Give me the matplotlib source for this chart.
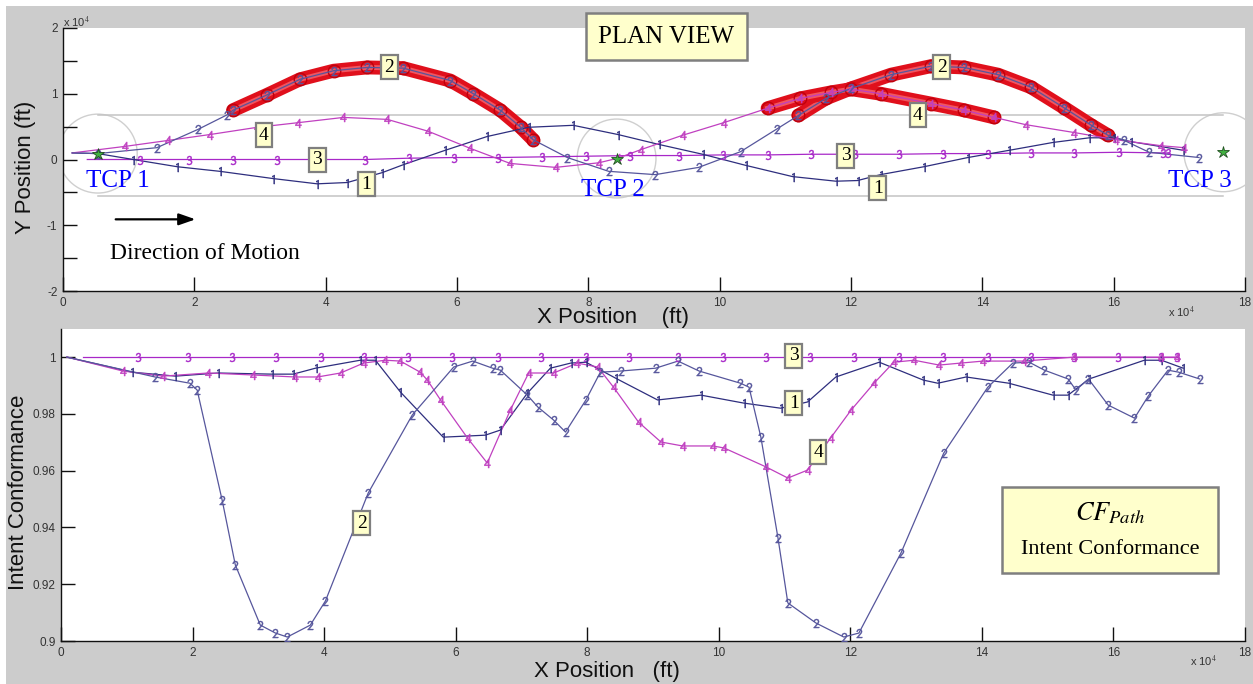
import matplotlib
matplotlib.use('Agg')
import matplotlib.pyplot as plt
from matplotlib.patches import Circle, Rectangle

plt.rcParams['mathtext.fontset'] = 'stix'
plt.rcParams['axes.unicode_minus'] = False
SANS = ['Liberation Sans', 'DejaVu Sans']
SERIF = ['Liberation Serif', 'DejaVu Serif']

# ---------------- Plan view data (x, y in units of 1e4 ft) ----------------
p1_x = [0.14, 0.53, 1.07, 1.74, 2.39, 3.20, 3.87, 4.33, 4.86, 5.18, 5.82, 6.46, 7.09, 7.77, 8.45,
        9.07, 9.74, 10.40, 11.11, 11.77, 12.10, 12.45, 13.11, 13.78, 14.41, 15.08, 15.63, 16.01, 16.27, 17.06]
p1_y = [0.10, 0.09, 0.00, -0.11, -0.18, -0.29, -0.37, -0.35, -0.20, -0.08, 0.14, 0.35, 0.49, 0.52, 0.38,
        0.23, 0.08, -0.09, -0.26, -0.33, -0.32, -0.23, -0.11, 0.03, 0.14, 0.26, 0.33, 0.33, 0.27, 0.14]

p2_x = [0.14, 0.53, 1.43, 2.06, 2.50, 2.59, 3.10, 3.61, 4.12, 4.63, 5.18, 5.90, 6.25, 6.66, 6.97, 7.16,
        7.68, 8.31, 9.02, 9.68, 10.32, 10.88, 11.20, 11.62, 12.00, 12.61, 13.22, 13.72, 14.24, 14.74,
        15.24, 15.66, 15.91, 16.16, 16.54, 17.30]
p2_y = [0.10, 0.09, 0.18, 0.46, 0.68, 0.75, 0.98, 1.22, 1.35, 1.40, 1.39, 1.20, 1.00, 0.75, 0.49, 0.30,
        0.03, -0.18, -0.23, -0.12, 0.12, 0.47, 0.67, 0.93, 1.08, 1.29, 1.42, 1.40, 1.29, 1.10,
        0.79, 0.52, 0.37, 0.29, 0.11, 0.03]

p3_x = [0.37, 1.17, 1.92, 2.59, 3.26, 3.93, 4.60, 5.27, 5.95, 6.62, 7.30, 7.96, 8.64, 9.38, 10.05,
        10.73, 11.39, 12.06, 12.73, 13.40, 14.09, 14.74, 15.40, 16.08, 16.75, 16.83]
p3_y = [0.00, 0.00, 0.00, 0.00, 0.00, 0.00, 0.00, 0.02, 0.03, 0.03, 0.04, 0.05, 0.06, 0.06, 0.07,
        0.07, 0.08, 0.08, 0.08, 0.09, 0.09, 0.10, 0.10, 0.11, 0.10, 0.10]

p4_x = [0.14, 0.95, 1.60, 2.24, 2.96, 3.58, 4.27, 4.94, 5.56, 6.20, 6.81, 7.50, 8.16, 8.45, 8.80,
        9.44, 10.06, 10.73, 11.23, 11.69, 12.00, 12.45, 13.22, 13.72, 14.18, 14.66, 15.40, 16.04, 16.72, 17.07]
p4_y = [0.10, 0.20, 0.29, 0.38, 0.49, 0.56, 0.64, 0.61, 0.43, 0.17, -0.06, -0.12, -0.05, 0.02, 0.15,
        0.37, 0.56, 0.78, 0.93, 1.02, 1.07, 1.00, 0.85, 0.75, 0.64, 0.53, 0.41, 0.30, 0.21, 0.18]

# x-ranges where conformance is poor (red rings)
red2 = [(2.55, 7.20), (11.15, 15.95)]
red4 = [(10.70, 14.20)]

tcp_x = [0.53, 8.43, 17.67]
tcp_y = [0.09, 0.015, 0.11]
tcp_names = ['TCP 1', 'TCP 2', 'TCP 3']
tcp_radius = 0.6
corridor_top = 0.67
corridor_bot = -0.55

# ---------------- Intent conformance data ----------------
c1_x = [0.09, 1.08, 1.74, 2.39, 3.21, 3.53, 3.87, 4.55, 4.78, 5.16, 5.81, 6.45, 6.68, 7.09, 7.44, 7.75,
        7.98, 8.43, 9.07, 9.73, 10.38, 10.94, 11.35, 11.78, 12.44, 13.11, 13.33, 13.76, 14.41, 15.08,
        15.31, 15.63, 16.47, 16.73, 17.06]
c1_y = [1.000, 0.9947, 0.9933, 0.9944, 0.9940, 0.9940, 0.9961, 0.9989, 0.9989, 0.9877, 0.9718, 0.9725,
        0.9743, 0.9873, 0.9961, 0.9979, 0.9982, 0.9926, 0.9849, 0.9866, 0.9838, 0.9820, 0.9842, 0.9930,
        0.9982, 0.9919, 0.9908, 0.9930, 0.9908, 0.9866, 0.9866, 0.9923, 0.9989, 0.9989, 0.9961]

c2_x = [0.09, 1.43, 1.96, 2.07, 2.45, 2.65, 3.03, 3.26, 3.44, 3.79, 4.02, 4.67, 5.34, 5.97, 6.26, 6.56,
        6.68, 7.09, 7.25, 7.49, 7.67, 7.98, 8.20, 8.51, 9.04, 9.38, 9.70, 10.33, 10.46, 10.64, 10.90,
        11.05, 11.48, 11.90, 12.13, 12.77, 13.42, 14.09, 14.47, 14.72, 14.95, 15.31, 15.43, 15.62, 15.92,
        16.32, 16.53, 16.83, 16.99, 17.31]
c2_y = [1.000, 0.9930, 0.9908, 0.9884, 0.9496, 0.9268, 0.9056, 0.9028, 0.9014, 0.9056, 0.9141, 0.9521,
        0.9796, 0.9965, 0.9986, 0.9961, 0.9954, 0.9866, 0.9824, 0.9778, 0.9736, 0.9849, 0.9947, 0.9951,
        0.9961, 0.9986, 0.9951, 0.9908, 0.9894, 0.9718, 0.9363, 0.9134, 0.9063, 0.9014, 0.9028, 0.9310,
        0.9662, 0.9894, 0.9979, 0.9982, 0.9954, 0.9923, 0.9884, 0.9923, 0.9831, 0.9785, 0.9863, 0.9954,
        0.9947, 0.9923]

c3_x = [0.34, 1.17, 1.93, 2.60, 3.27, 3.96, 4.61, 5.28, 5.95, 6.64, 7.29, 7.98, 8.63, 9.38, 10.06,
        10.72, 11.39, 12.05, 12.74, 13.41, 14.09, 14.75, 15.40, 16.07, 16.73, 16.96]
c3_y = [1.0, 1.0, 1.0, 1.0, 1.0, 1.0, 1.0, 1.0, 1.0, 1.0, 1.0, 1.0, 1.0, 1.0, 1.0,
        1.0, 1.0, 1.0, 1.0, 1.0, 1.0, 1.0, 1.0, 1.0, 1.0, 1.0]

c4_x = [0.09, 0.94, 1.55, 2.24, 2.92, 3.56, 3.90, 4.25, 4.60, 4.93, 5.16, 5.46, 5.57, 5.77, 6.18, 6.48,
        6.83, 7.11, 7.49, 7.85, 8.16, 8.40, 8.78, 9.12, 9.45, 9.91, 10.08, 10.72, 11.05, 11.35, 11.70,
        12.01, 12.36, 12.66, 12.97, 13.35, 13.68, 14.02, 14.64, 15.40, 16.73, 16.96]
c4_y = [1.000, 0.9951, 0.9933, 0.9944, 0.9937, 0.9930, 0.9930, 0.9944, 0.9979, 0.9989, 0.9986, 0.9947,
        0.9919, 0.9849, 0.9715, 0.9627, 0.9813, 0.9944, 0.9944, 0.9979, 0.9965, 0.9894, 0.9771, 0.9701,
        0.9687, 0.9687, 0.9680, 0.9613, 0.9574, 0.9602, 0.9715, 0.9813, 0.9908, 0.9982, 0.9989, 0.9972,
        0.9979, 0.9986, 0.9986, 1.000, 1.000, 1.000]

x_ticks = [0, 2, 4, 6, 8, 10, 12, 14, 16, 18]
y1_ticks = [-2, -1, 0, 1, 2]
y2_ticks = [0.9, 0.92, 0.94, 0.96, 0.98, 1.0]
y2_labels = ['0.9', '0.92', '0.94', '0.96', '0.98', '1']

COL = {1: '#2e2e7e', 2: '#56569c', 3: '#a828c8', 4: '#c040c0'}
BOXC = '#ffffcc'
BOXE = '#7f7f7f'

W, H = 1253, 684
fig = plt.figure(figsize=(W / 100, H / 100), dpi=100, facecolor='#cccccc')
fig.patches.append(Rectangle((0, 1 - 6 / H), 1, 6 / H, transform=fig.transFigure,
                             fc='white', ec='none', zorder=-5))
fig.patches.append(Rectangle((0, 0), 6 / W, 1, transform=fig.transFigure,
                             fc='white', ec='none', zorder=-5))


def style_axes(ax):
    for s in ('top', 'right'):
        ax.spines[s].set_visible(False)
    for s in ('left', 'bottom'):
        ax.spines[s].set_linewidth(1.0)
        ax.spines[s].set_color('#111111')
    ax.tick_params(which='both', direction='in', length=10, width=1.0, colors='#111111',
                   labelcolor='#333333', labelsize=8.5, top=False, right=False, pad=4)
    for lab in ax.get_xticklabels() + ax.get_yticklabels():
        lab.set_fontfamily(SANS)


def numbox(ax, x, y, s):
    ax.text(x, y, s, fontsize=14, family=SERIF, ha='center', va='center', zorder=10,
            bbox=dict(boxstyle='square,pad=0.18', fc=BOXC, ec=BOXE, lw=1.6))


def path_line(ax, xs, ys, k, lw=0.9):
    ax.plot(xs[1:], ys[1:], color=COL[k], lw=0, marker=r'$\mathsf{%d}$' % k, ms=6.5,
            mec=COL[k], mfc=COL[k], mew=0.3, zorder=5)
    ax.plot(xs, ys, color=COL[k], lw=lw, zorder=4)


# ---------------- Top: plan view ----------------
ax1 = fig.add_axes([63 / W, 393 / H, 1182 / W, 263 / H])
ax1.set_xlim(0, 18)
ax1.set_ylim(-2, 2)
ax1.set_xticks(x_ticks)
ax1.set_yticks(y1_ticks)
ax1.set_yticks([-1.5, -0.5, 0.5, 1.5], minor=True)
style_axes(ax1)

for cx, cy in zip(tcp_x, tcp_y):
    ax1.add_patch(Circle((cx, cy), tcp_radius, fill=False, ec='#cfcfcf', lw=1.0, zorder=1))
ax1.plot([tcp_x[0], tcp_x[2]], [corridor_top, corridor_top], color='#c4c4c4', lw=1.1, zorder=1)
ax1.plot([tcp_x[0], tcp_x[2]], [corridor_bot, corridor_bot], color='#c4c4c4', lw=1.1, zorder=1)


def red_rings(ax, xs, ys, ranges):
    for lo, hi in ranges:
        sx = [x for x in xs if lo <= x <= hi]
        sy = [y for x, y in zip(xs, ys) if lo <= x <= hi]
        ax.plot(sx, sy, color='#e0101c', lw=10, solid_capstyle='round', zorder=3)
        ax.plot(sx, sy, color='#f05560', lw=3.5, zorder=3)
        ax.plot(sx, sy, lw=0, marker='o', ms=9, mfc='none', mec='#c0000c', mew=1.0, zorder=3)


red_rings(ax1, p2_x, p2_y, red2)
red_rings(ax1, p4_x, p4_y, red4)

path_line(ax1, p3_x, p3_y, 3)
path_line(ax1, p1_x, p1_y, 1)
path_line(ax1, p4_x, p4_y, 4)
path_line(ax1, p2_x, p2_y, 2)

ax1.plot(tcp_x, tcp_y, lw=0, marker='*', ms=9, mfc='#40b040', mec='#205020', mew=0.6, zorder=8)

tcp_lab_pos = [(0.84, -0.32), (8.38, -0.46), (17.32, -0.32)]
for (lx, ly), name in zip(tcp_lab_pos, tcp_names):
    ax1.text(lx, ly, name, color='#0000ff', fontsize=18, family=SERIF, ha='center', va='center', zorder=9)

numbox(ax1, 4.97, 1.40, '2')
numbox(ax1, 3.06, 0.37, '4')
numbox(ax1, 3.87, 0.00, '3')
numbox(ax1, 4.62, -0.38, '1')
numbox(ax1, 13.38, 1.40, '2')
numbox(ax1, 13.02, 0.67, '4')
numbox(ax1, 11.92, 0.06, '3')
numbox(ax1, 12.41, -0.44, '1')

ax1.text(9.19, 1.87, 'PLAN VIEW', fontsize=18, family=SERIF, ha='center', va='center', zorder=10,
         bbox=dict(boxstyle='square,pad=0.5', fc=BOXC, ec=BOXE, lw=1.8))

ax1.annotate('', xy=(2.06, -0.91), xytext=(0.76, -0.91),
             arrowprops=dict(arrowstyle='-|>,head_length=1.0,head_width=0.35', color='black', lw=1.6))
ax1.text(0.72, -1.43, 'Direction of Motion', fontsize=17, family=SERIF, ha='left', va='center')

fig.text(63 / W, 1 - 22 / H, r'x 10$^{4}$', fontsize=8, family=SANS, color='#333333', ha='left', va='center')
fig.text(1168 / W, 1 - 312 / H, r'x 10$^{4}$', fontsize=8, family=SANS, color='#333333', ha='left', va='center')
fig.text(613 / W, 1 - 318 / H, 'X Position    (ft)', fontsize=16, family=SANS, color='#111111',
         ha='center', va='center')
fig.text(25 / W, 1 - 167 / H, 'Y Position (ft)', fontsize=16, family=SANS, color='#111111',
         ha='center', va='center', rotation=90)

# ---------------- Bottom: intent conformance ----------------
ax2 = fig.add_axes([61 / W, 43 / H, 1184 / W, 312 / H])
ax2.set_xlim(0, 18)
ax2.set_ylim(0.9, 1.0099)
ax2.set_xticks(x_ticks)
ax2.set_yticks(y2_ticks)
ax2.set_yticklabels(y2_labels)
style_axes(ax2)

path_line(ax2, c3_x, c3_y, 3)
path_line(ax2, c1_x, c1_y, 1)
path_line(ax2, c4_x, c4_y, 4)
path_line(ax2, c2_x, c2_y, 2)

numbox(ax2, 11.14, 1.0004, '3')
numbox(ax2, 11.14, 0.9838, '1')
numbox(ax2, 11.51, 0.9665, '4')
numbox(ax2, 4.57, 0.9415, '2')

ax2.add_patch(Rectangle(((1002 - 61) / 1184, (641 - 573) / 312), 216 / 1184, 86 / 312,
                        transform=ax2.transAxes, fc=BOXC, ec=BOXE, lw=1.8, zorder=10))
ax2.text((1110 - 61) / 1184, (641 - 513) / 312, r'$CF_{Path}$', fontsize=19, ha='center', va='center',
         transform=ax2.transAxes, zorder=11)
ax2.text((1110 - 61) / 1184, (641 - 549) / 312, 'Intent Conformance', fontsize=16, family=SERIF,
         ha='center', va='center', transform=ax2.transAxes, zorder=11)

fig.text(1190 / W, 1 - 661 / H, r'x 10$^{4}$', fontsize=8, family=SANS, color='#333333', ha='left', va='center')
fig.text(607 / W, 1 - 671 / H, 'X Position   (ft)', fontsize=16, family=SANS, color='#111111',
         ha='center', va='center')
fig.text(19 / W, 1 - 492 / H, 'Intent Conformance', fontsize=16, family=SANS, color='#111111',
         ha='center', va='center', rotation=90)

fig.savefig('out.png', dpi=100, facecolor=fig.get_facecolor())
